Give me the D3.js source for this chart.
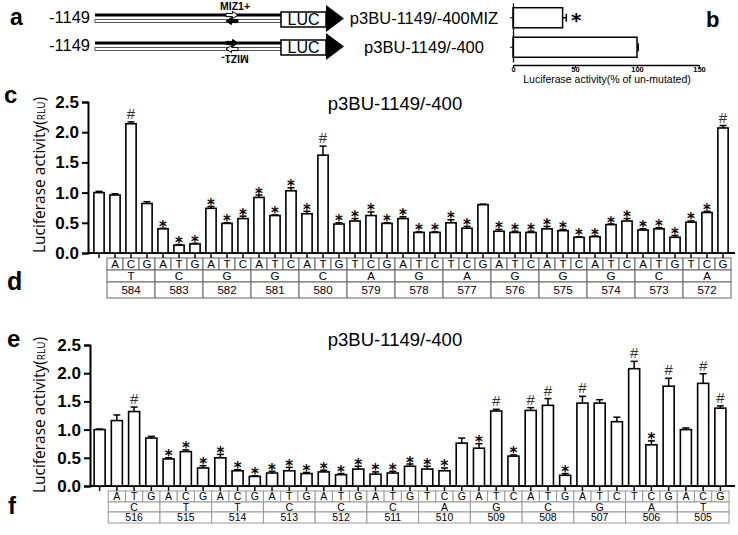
<!DOCTYPE html>
<html>
<head>
<meta charset="utf-8">
<script src="https://cdn.jsdelivr.net/npm/d3@7"></script>
<style>
  body { margin: 0; background: #fff; }
  svg { display: block; font-family: "Liberation Sans", Arial, sans-serif; }
</style>
</head>
<body>
<svg id="fig" width="738" height="535"></svg>
<script>
// Panel b data
const bLabels = ['p3BU-1149/-400MIZ', 'p3BU-1149/-400']
const bValues = [40, 100]
const bErrors = [3, 1]
const bSig = ['*', '']
const bTicks = [0, 50, 100, 150]

// Panel c / d data (first bar = un-mutated reference)
const cValues = [1.00, 0.96, 2.14, 0.82, 0.40, 0.13, 0.15, 0.74, 0.49, 0.57,
  0.92, 0.62, 1.03, 0.65, 1.62, 0.48, 0.53, 0.62, 0.49, 0.57,
  0.34, 0.34, 0.50, 0.41, 0.80, 0.36, 0.34, 0.34, 0.40, 0.37,
  0.26, 0.27, 0.47, 0.53, 0.38, 0.40, 0.26, 0.51, 0.67, 2.07]
const cErrors = [0.02, 0.02, 0.03, 0.03, 0.01, 0.01, 0.01, 0.03, 0.01, 0.04,
  0.04, 0.01, 0.05, 0.04, 0.15, 0.02, 0.04, 0.06, 0.01, 0.03,
  0.01, 0.01, 0.05, 0.03, 0.01, 0.03, 0.02, 0.02, 0.04, 0.02,
  0.01, 0.01, 0.01, 0.04, 0.02, 0.02, 0.03, 0.02, 0.02, 0.04]
const cSig = ['', '', '#', '', '*', '*', '*', '*', '*', '*',
  '*', '*', '*', '*', '#', '*', '*', '*', '*', '*',
  '*', '*', '*', '*', '', '*', '*', '*', '*', '*',
  '*', '*', '*', '*', '*', '*', '*', '*', '*', '#']
const dLetters = ['A', 'C', 'G', 'A', 'T', 'G', 'A', 'T', 'C', 'A', 'T', 'C', 'A', 'T', 'G',
  'T', 'C', 'G', 'A', 'T', 'C', 'T', 'C', 'G', 'A', 'T', 'C', 'A', 'T', 'C',
  'A', 'T', 'C', 'A', 'T', 'G', 'T', 'C', 'G']
const dBases = ['T', 'C', 'G', 'G', 'C', 'A', 'G', 'A', 'G', 'G', 'G', 'C', 'A']
const dPositions = ['584', '583', '582', '581', '580', '579', '578', '577', '576', '575', '574', '573', '572']

// Panel e / f data
const eValues = [1.00, 1.16, 1.32, 0.85, 0.48, 0.61, 0.32, 0.50, 0.27, 0.17,
  0.23, 0.27, 0.22, 0.25, 0.20, 0.30, 0.21, 0.23, 0.35, 0.30,
  0.27, 0.76, 0.67, 1.33, 0.53, 1.34, 1.43, 0.19, 1.47, 1.47,
  1.14, 2.08, 0.73, 1.77, 1.00, 1.82, 1.38]
const eErrors = [0.01, 0.10, 0.08, 0.03, 0.02, 0.03, 0.04, 0.06, 0.02, 0.01,
  0.03, 0.06, 0.02, 0.03, 0.02, 0.05, 0.04, 0.03, 0.04, 0.05,
  0.05, 0.09, 0.08, 0.03, 0.02, 0.05, 0.12, 0.03, 0.12, 0.06,
  0.08, 0.13, 0.07, 0.14, 0.03, 0.17, 0.04]
const eSig = ['', '', '#', '', '*', '*', '*', '*', '*', '*',
  '*', '*', '*', '*', '*', '*', '*', '*', '*', '*',
  '*', '', '*', '#', '*', '#', '#', '*', '#', '',
  '', '#', '*', '#', '', '#', '#']
const fLetters = ['A', 'T', 'G', 'A', 'C', 'G', 'A', 'C', 'G', 'A', 'T', 'G', 'A', 'T', 'G',
  'A', 'T', 'G', 'T', 'C', 'G', 'A', 'T', 'C', 'A', 'T', 'G', 'A', 'T', 'C',
  'T', 'C', 'G', 'A', 'C', 'G']
const fBases = ['C', 'T', 'T', 'C', 'C', 'C', 'A', 'G', 'C', 'G', 'A', 'T']
const fPositions = ['516', '515', '514', '513', '512', '511', '510', '509', '508', '507', '506', '505']

const yTicks = [0, 0.5, 1.0, 1.5, 2.0, 2.5]

const svg = d3.select('#fig')

// Panel letters
const panelLetters = [
  { t: 'a', x: 10, y: 25, s: 23 },
  { t: 'b', x: 706, y: 27, s: 22 },
  { t: 'c', x: 4, y: 103, s: 24 },
  { t: 'd', x: 7, y: 290, s: 25 },
  { t: 'e', x: 7, y: 347, s: 24 },
  { t: 'f', x: 8, y: 514, s: 24 }
]
svg.selectAll('.plabel')
  .data(panelLetters)
  .enter()
  .append('text')
  .attr('class', 'plabel')
  .attr('x', d => d.x)
  .attr('y', d => d.y)
  .style('font-size', d => d.s + 'px')
  .style('font-weight', 'bold')
  .text(d => d.t)

// ---------- Panel a: construct schematic ----------
const arrow = (g, cx, cy, dir, fill) => {
  const pts = [[-6, -1.6], [0.5, -1.6], [0.5, -3.6], [6, 0], [0.5, 3.6], [0.5, 1.6], [-6, 1.6]]
    .map(([px, py]) => [cx + dir * px, cy + py])
  g.append('polygon')
    .attr('points', pts.join(' '))
    .attr('fill', fill)
    .attr('stroke', '#000')
    .attr('stroke-width', 1)
}

const drawConstruct = (dy, topDir, topFill, lowDir, lowFill) => {
  const g = svg.append('g').attr('transform', `translate(0, ${dy})`)
  g.append('text').attr('x', 90).attr('y', 23).attr('text-anchor', 'end')
    .style('font-size', '16.5px').text('-1149')
  g.append('line').attr('x1', 95).attr('x2', 281).attr('y1', 15).attr('y2', 15)
    .attr('stroke', '#000').attr('stroke-width', 3)
  g.append('rect').attr('x', 95).attr('y', 19.5).attr('width', 186).attr('height', 3)
    .attr('fill', '#fff').attr('stroke', '#444').attr('stroke-width', 0.9)
  arrow(g, 232, 15, topDir, topFill)
  arrow(g, 232, 21, lowDir, lowFill)
  g.append('rect').attr('x', 281).attr('y', 12).attr('width', 45).attr('height', 15)
    .attr('fill', '#fff').attr('stroke', '#000').attr('stroke-width', 1.5)
  g.append('text').attr('x', 303.5).attr('y', 25).attr('text-anchor', 'middle')
    .style('font-size', '16px').text('LUC')
  g.append('polygon').attr('points', '326,5 326,32 344,18.5').attr('fill', '#000')
  return g
}
drawConstruct(0, 1, '#fff', -1, '#000')
drawConstruct(28, 1, '#000', -1, '#fff')
svg.append('text').attr('x', 235).attr('y', 10).attr('text-anchor', 'middle')
  .style('font-size', '10.5px').style('font-weight', 'bold').text('MIZ1+')
svg.append('text').attr('transform', 'translate(235, 55) rotate(180)').attr('text-anchor', 'middle')
  .style('font-size', '10.5px').style('font-weight', 'bold').text('MIZ1-')

// ---------- Panel b: horizontal bars ----------
const xB = d3.scaleLinear().domain([0, 150]).range([513, 699])
const yB = d3.scaleBand().domain(bLabels).range([3, 62]).paddingInner(0.32).paddingOuter(0.16)
const gB = svg.append('g')

gB.selectAll('.blabel')
  .data(bLabels)
  .enter()
  .append('text')
  .attr('x', 424)
  .attr('y', d => yB(d) + yB.bandwidth() / 2 + 6)
  .attr('text-anchor', 'middle')
  .style('font-size', '16.5px')
  .text(d => d)

gB.selectAll('.bbar')
  .data(bValues)
  .enter()
  .append('rect')
  .attr('x', xB(0))
  .attr('y', (d, i) => yB(bLabels[i]))
  .attr('width', d => xB(d) - xB(0))
  .attr('height', yB.bandwidth())
  .attr('fill', '#fff')
  .attr('stroke', '#000')
  .attr('stroke-width', 1.5)

bValues.forEach((v, i) => {
  const cy = yB(bLabels[i]) + yB.bandwidth() / 2
  gB.append('line').attr('x1', xB(v)).attr('x2', xB(v + bErrors[i])).attr('y1', cy).attr('y2', cy)
    .attr('stroke', '#000').attr('stroke-width', 1.5)
  gB.append('line').attr('x1', xB(v + bErrors[i])).attr('x2', xB(v + bErrors[i]))
    .attr('y1', cy - 4).attr('y2', cy + 4).attr('stroke', '#000').attr('stroke-width', 1.5)
  if (bSig[i]) {
    gB.append('text').attr('x', xB(v + bErrors[i]) + 10).attr('y', cy + 9)
      .attr('text-anchor', 'middle').style('font-family', '"DejaVu Sans", sans-serif')
      .style('font-weight', 'bold').style('font-size', '20px').text(bSig[i])
  }
})

gB.append('g')
  .attr('transform', 'translate(0, 65)')
  .call(d3.axisBottom(xB).tickValues(bTicks).tickSize(3).tickSizeOuter(0))
  .call(g => g.selectAll('text').style('font-size', '7.5px').style('font-weight', 'bold')
    .attr('y', 1.5).attr('dy', '0.71em').style('font-family', '"Liberation Sans", Arial, sans-serif'))
  .call(g => g.select('.domain').attr('stroke-width', 1.3))
gB.append('g')
  .attr('transform', `translate(${xB(0)}, 0)`)
  .call(d3.axisLeft(yB).tickSize(3).tickFormat('').tickSizeOuter(0))
  .call(g => g.select('.domain').attr('stroke-width', 1.3))
gB.append('text').attr('x', 607).attr('y', 83).attr('text-anchor', 'middle')
  .style('font-size', '10.5px').text('Luciferase activity(% of un-mutated)')

// ---------- Panels c/e with tables d/f ----------
const drawPanel = opts => {
  const g = svg.append('g')
  const n = opts.values.length
  const x = d3.scaleBand().domain(d3.range(n)).range(opts.xRange)
    .paddingInner(opts.pad).paddingOuter(opts.pad / 2)
  const y = d3.scaleLinear().domain([0, 2.5]).range([opts.y0, opts.y1])
  const step = x.step()
  const cx = i => x(i) + x.bandwidth() / 2

  // sequence table
  const t = opts.table
  const rows = t.rows
  const left = i => cx(i) - step / 2
  const tg = g.append('g').style('font-size', t.font + 'px')
  opts.letters.forEach((l, k) => {
    const i = k + 1
    tg.append('rect').attr('x', left(i)).attr('y', rows[0]).attr('width', step)
      .attr('height', rows[1] - rows[0]).attr('fill', '#fff').attr('stroke', t.stroke)
    tg.append('text').attr('x', cx(i)).attr('y', (rows[0] + rows[1]) / 2 + t.font * 0.36)
      .attr('text-anchor', 'middle').text(l)
  })
  opts.bases.forEach((b, j) => {
    const x0 = left(1 + 3 * j)
    const mid = x0 + 1.5 * step
    tg.append('rect').attr('x', x0).attr('y', rows[1]).attr('width', step * 3)
      .attr('height', rows[2] - rows[1]).attr('fill', '#fff').attr('stroke', t.stroke)
    tg.append('rect').attr('x', x0).attr('y', rows[2]).attr('width', step * 3)
      .attr('height', rows[3] - rows[2]).attr('fill', '#fff').attr('stroke', t.stroke)
    tg.append('text').attr('x', mid).attr('y', (rows[1] + rows[2]) / 2 + t.font * 0.36)
      .attr('text-anchor', 'middle').text(b)
    tg.append('text').attr('x', mid).attr('y', (rows[2] + rows[3]) / 2 + t.font * 0.36)
      .attr('text-anchor', 'middle').text(opts.positions[j])
  })

  // y axis
  g.append('g')
    .attr('transform', `translate(${opts.axisX}, 0)`)
    .call(d3.axisLeft(y).tickValues(yTicks).tickSize(6).tickFormat(d3.format('.1f')))
    .call(a => a.selectAll('text').style('font-size', '17px').style('font-weight', 'bold')
      .style('font-family', '"Liberation Sans", Arial, sans-serif').attr('x', -9))
    .call(a => a.selectAll('line').attr('stroke-width', 2))
    .call(a => a.select('.domain').attr('stroke-width', 2))

  // x axis with short ticks at bar centres
  g.append('g')
    .attr('transform', `translate(0, ${opts.y0})`)
    .call(d3.axisBottom(x).tickSize(opts.table.rows[0] - opts.y0).tickFormat('').tickSizeOuter(0))
    .call(a => a.select('.domain').remove())
    .call(a => a.selectAll('line').attr('stroke-width', 1.5))
  g.append('line').attr('x1', opts.axisX).attr('x2', 735).attr('y1', opts.y0).attr('y2', opts.y0)
    .attr('stroke', '#000').attr('stroke-width', 2)

  // bars
  g.selectAll('.bar')
    .data(opts.values)
    .enter()
    .append('rect')
    .attr('class', 'bar')
    .attr('x', (d, i) => x(i))
    .attr('y', d => y(d))
    .attr('width', x.bandwidth())
    .attr('height', d => y(0) - y(d))
    .attr('fill', '#fff')
    .attr('stroke', '#000')
    .attr('stroke-width', 1.6)

  // error whiskers (upper only) and significance marks
  opts.values.forEach((v, i) => {
    const top = y(v + opts.errors[i])
    g.append('line').attr('x1', cx(i)).attr('x2', cx(i)).attr('y1', y(v)).attr('y2', top)
      .attr('stroke', '#000').attr('stroke-width', 1.5)
    g.append('line').attr('x1', cx(i) - 3.5).attr('x2', cx(i) + 3.5).attr('y1', top).attr('y2', top)
      .attr('stroke', '#000').attr('stroke-width', 1.5)
    const s = opts.sig[i]
    if (s === '*') {
      g.append('text').attr('x', cx(i)).attr('y', top + 3.5).attr('text-anchor', 'middle')
        .style('font-family', '"DejaVu Sans", sans-serif').style('font-weight', 'bold')
        .style('font-size', '15px').text('*')
    } else if (s === '#') {
      g.append('text').attr('x', cx(i)).attr('y', top - 3).attr('text-anchor', 'middle')
        .style('font-size', '15px').attr('fill', '#333').text('#')
    }
  })

  // title
  g.append('text').attr('x', 395).attr('y', opts.titleY).attr('text-anchor', 'middle')
    .style('font-size', '18.5px').text('p3BU-1149/-400')

  // y label
  const yl = g.append('text')
    .attr('transform', `translate(${opts.labelX}, ${opts.labelY}) rotate(-90)`)
    .attr('text-anchor', 'middle')
    .style('font-family', '"Open Sans", sans-serif')
    .style('font-size', '15.5px')
  yl.append('tspan').text('Luciferase activity(')
  yl.append('tspan').style('font-size', '10px').text('RLU')
  yl.append('tspan').text(')')
}

drawPanel({
  values: cValues, errors: cErrors, sig: cSig,
  letters: dLetters, bases: dBases, positions: dPositions,
  xRange: [91, 731], pad: 0.36, y0: 253, y1: 102, axisX: 88,
  titleY: 110, labelX: 45, labelY: 175,
  table: { rows: [258, 270, 282, 298], font: 11.5, stroke: '#666' }
})

drawPanel({
  values: eValues, errors: eErrors, sig: eSig,
  letters: fLetters, bases: fBases, positions: fPositions,
  xRange: [91, 729], pad: 0.36, y0: 486, y1: 345, axisX: 90,
  titleY: 346, labelX: 45, labelY: 415,
  table: { rows: [491, 502, 512, 523], font: 10.5, stroke: '#999' }
})
</script>
</body>
</html>
